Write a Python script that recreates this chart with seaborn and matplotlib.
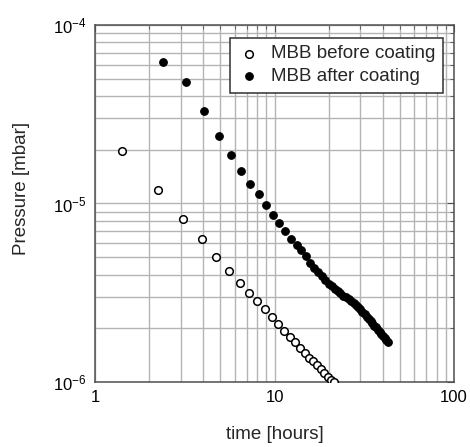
import matplotlib
matplotlib.use("Agg")
import matplotlib.pyplot as plt
import matplotlib.ticker as mticker
import seaborn as sns
import pandas as pd

# MBB before coating: time [hours], pressure [mbar]
t_before = [1.41, 2.24, 3.09, 3.93, 4.74, 5.56, 6.40, 7.24, 8.02, 8.89, 9.68,
            10.46, 11.3, 12.2, 13.05, 13.9, 14.8, 15.6, 16.4, 17.2, 18.1, 18.9,
            19.8, 20.6, 21.4]
p_before = [1.98e-5, 1.19e-5, 8.16e-6, 6.30e-6, 5.02e-6, 4.20e-6, 3.60e-6,
            3.16e-6, 2.85e-6, 2.58e-6, 2.32e-6, 2.12e-6, 1.94e-6, 1.79e-6,
            1.67e-6, 1.56e-6, 1.46e-6, 1.37e-6, 1.31e-6, 1.24e-6, 1.19e-6,
            1.12e-6, 1.07e-6, 1.03e-6, 1.00e-6]

# MBB after coating
t_after = [2.38, 3.20, 4.03, 4.89, 5.70, 6.53, 7.33, 8.23, 9.0, 9.85, 10.6,
           11.5, 12.4, 13.3, 14.1, 14.9, 15.8, 16.6, 17.4, 18.3, 19.1, 20.0,
           20.8, 21.7, 22.5, 23.3, 24.2, 25.0, 25.9, 26.7, 27.6, 28.4, 29.2,
           30.1, 30.9, 31.8, 32.6, 33.5, 34.3, 35.1, 36.0, 36.8, 37.7, 38.5,
           39.4, 40.2, 41.0, 41.9, 42.7]
p_after = [6.18e-5, 4.78e-5, 3.28e-5, 2.40e-5, 1.88e-5, 1.53e-5, 1.28e-5,
           1.13e-5, 9.81e-6, 8.62e-6, 7.78e-6, 7.01e-6, 6.35e-6, 5.85e-6,
           5.48e-6, 5.05e-6, 4.67e-6, 4.36e-6, 4.12e-6, 3.90e-6, 3.72e-6,
           3.56e-6, 3.43e-6, 3.31e-6, 3.22e-6, 3.14e-6, 3.05e-6, 2.99e-6,
           2.93e-6, 2.86e-6, 2.77e-6, 2.70e-6, 2.63e-6, 2.55e-6, 2.48e-6,
           2.40e-6, 2.32e-6, 2.25e-6, 2.19e-6, 2.13e-6, 2.07e-6, 2.02e-6,
           1.96e-6, 1.91e-6, 1.86e-6, 1.81e-6, 1.77e-6, 1.72e-6, 1.67e-6]

before = pd.DataFrame({"t": t_before, "p": p_before})
after = pd.DataFrame({"t": t_after, "p": p_after})

sns.set_style("white")
plt.rcParams["font.family"] = ["Liberation Sans", "DejaVu Sans"]
plt.rcParams["mathtext.fontset"] = "custom"
plt.rcParams["mathtext.rm"] = "Liberation Sans"

fig = plt.figure(figsize=(4.70, 4.47), dpi=100)
ax = fig.add_axes([0.2021, 0.1454, 0.764, 0.7987])

sns.scatterplot(data=before, x="t", y="p", ax=ax, marker="o", s=30,
                facecolor="white", edgecolor="black", linewidth=1.1,
                label="MBB before coating", zorder=3)
sns.scatterplot(data=after, x="t", y="p", ax=ax, marker="o", s=30,
                color="black", edgecolor="black", linewidth=0.8,
                label="MBB after coating", zorder=3)

ax.set_xscale("log")
ax.set_yscale("log")
ax.set_xlim(1, 100)
ax.set_ylim(1e-6, 1e-4)

ax.xaxis.set_major_locator(mticker.FixedLocator([1, 10, 100]))
ax.xaxis.set_major_formatter(mticker.FixedFormatter(["1", "10", "100"]))
ax.xaxis.set_minor_locator(mticker.LogLocator(base=10, subs=range(2, 10), numticks=20))
ax.xaxis.set_minor_formatter(mticker.NullFormatter())
ax.yaxis.set_major_locator(mticker.FixedLocator([1e-6, 1e-5, 1e-4]))
ax.yaxis.set_major_formatter(mticker.FixedFormatter(
    [r"$\mathregular{10^{-6}}$", r"$\mathregular{10^{-5}}$", r"$\mathregular{10^{-4}}$"]))
ax.yaxis.set_minor_locator(mticker.LogLocator(base=10, subs=range(2, 10), numticks=20))
ax.yaxis.set_minor_formatter(mticker.NullFormatter())

ax.grid(True, which="both", color="#b4b4b4", linewidth=1.0, zorder=0)
ax.set_axisbelow(True)
ax.tick_params(which="both", direction="in", top=True, right=True,
               color="#505050", labelsize=12, colors="black")
ax.tick_params(which="major", length=5, pad=6)
ax.tick_params(which="minor", length=3)
for s in ax.spines.values():
    s.set_color("#505050")
    s.set_linewidth(1.1)

ax.set_xlabel("time [hours]", fontsize=13.5)
ax.set_ylabel("Pressure [mbar]", fontsize=13.5)
ax.xaxis.set_label_coords(0.5, -0.122)
ax.yaxis.set_label_coords(-0.18, 0.543)

leg = ax.legend(loc="upper right", bbox_to_anchor=(0.969, 0.964), fontsize=13.5,
                frameon=True, fancybox=False, handletextpad=0.5,
                borderpad=0.4, labelspacing=0.3, handlelength=1.3,
                borderaxespad=0)
leg.get_frame().set_edgecolor("#303030")
leg.get_frame().set_linewidth(1.1)
leg.get_frame().set_alpha(1)

fig.savefig("out.png", dpi=100)
